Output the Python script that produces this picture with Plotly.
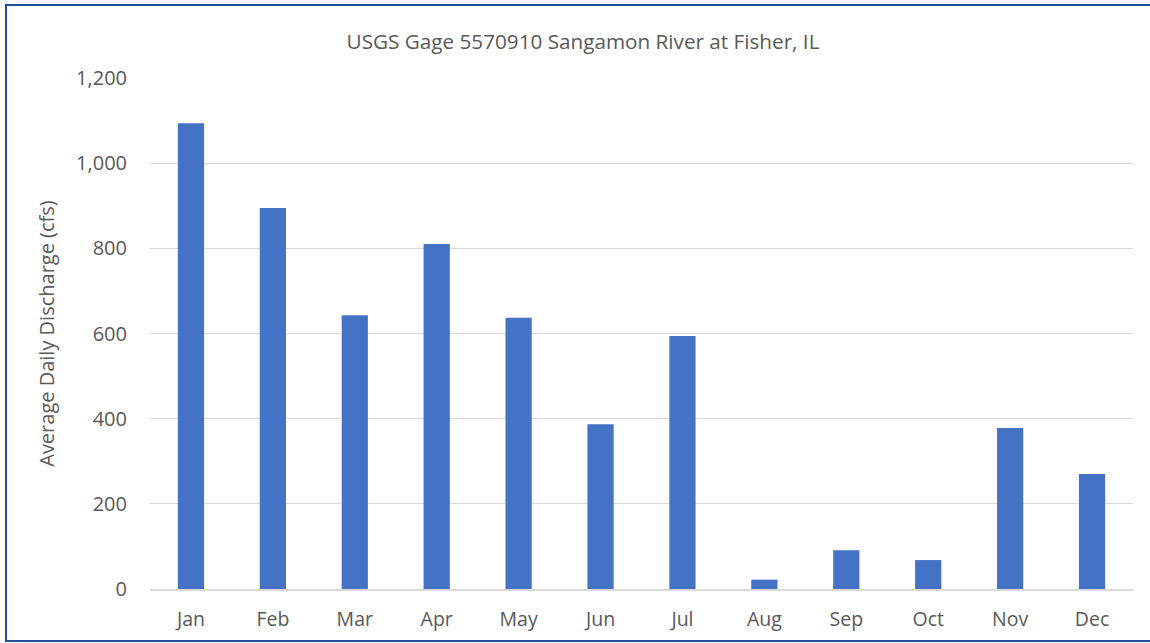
import plotly.graph_objects as go

months = ["Jan", "Feb", "Mar", "Apr", "May", "Jun", "Jul", "Aug", "Sep", "Oct", "Nov", "Dec"]
discharge = [1094, 895, 643, 810, 637, 387, 594, 22, 91, 68, 378, 270]
y_ticks = [0, 200, 400, 600, 800, 1000, 1200]
y_tick_labels = ["0", "200", "400", "600", "800", "1,000", "1,200"]

W, H = 1150, 643
L, R, T, B = 150, 17, 78, 54
pw, ph = W - L - R, H - T - B

def px(x):
    return (x - L) / pw

def py(y):
    return (H - B - y) / ph

fig = go.Figure(go.Bar(x=months, y=discharge, marker=dict(color="#4472C4", line=dict(width=0))))

font = "'Open Sans', sans-serif"
fig.update_layout(
    width=W, height=H,
    margin=dict(l=L, r=R, t=T, b=B),
    paper_bgcolor="white", plot_bgcolor="white",
    bargap=0.68,
    showlegend=False,
    title=dict(text="USGS Gage 5570910 Sangamon River at Fisher, IL", x=583 / W, xanchor="center",
               y=1 - 42 / H, yanchor="middle", font=dict(family=font, size=20.7, color="#595959")),
    font=dict(family=font, color="#595959", size=19),
    xaxis=dict(showgrid=False, showline=True, linecolor="#D9D9D9", linewidth=1.5, ticks="",
               ticklabelstandoff=12,
               tickfont=dict(size=19.5, color="#595959")),
    yaxis=dict(range=[0, 1200], tickvals=y_ticks, ticktext=y_tick_labels, showgrid=True,
               gridcolor="#D9D9D9", gridwidth=1, zeroline=False, showline=False, ticks="",
               ticklabelstandoff=22,
               title=dict(text="Average Daily Discharge (cfs)", standoff=16, font=dict(size=20, color="#595959")),
               tickfont=dict(size=20, color="#595959")),
    shapes=[dict(type="rect", xref="paper", yref="paper", x0=px(6), x1=px(1156), y0=py(641), y1=py(5),
                 line=dict(color="#1F4E9A", width=2), fillcolor="rgba(0,0,0,0)", layer="above")],
)

fig.write_html("out.html", config={"displayModeBar": False},
               post_script="document.body.style.margin='0';document.body.style.overflow='hidden';")
